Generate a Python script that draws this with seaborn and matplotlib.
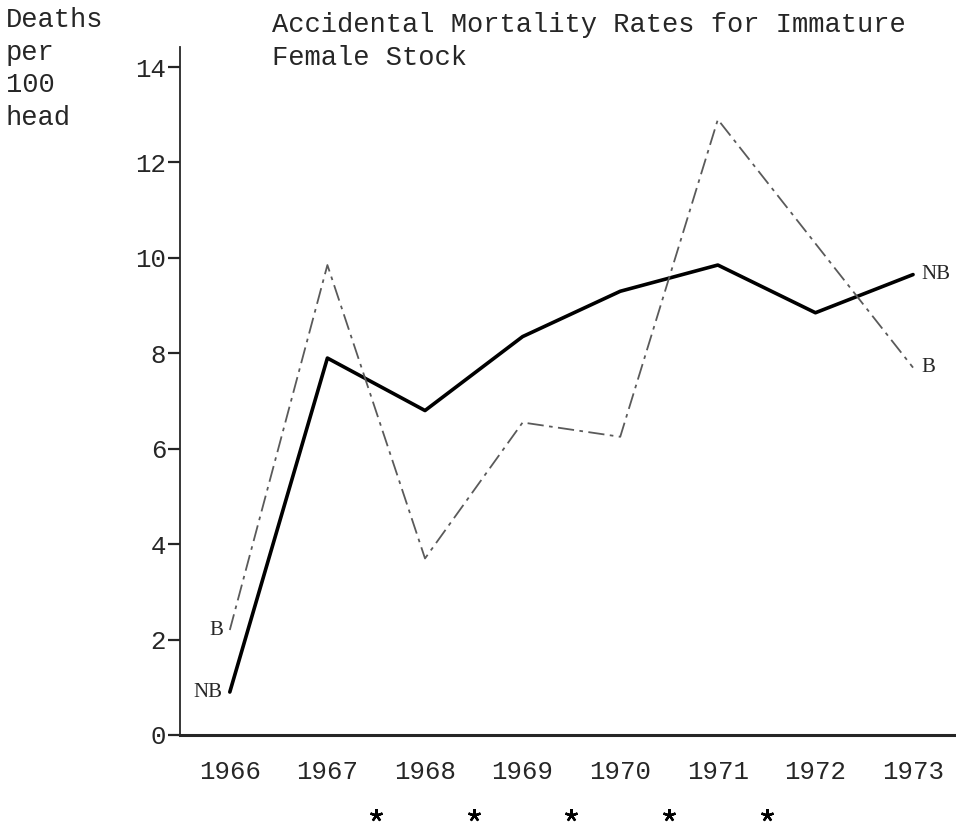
import pandas as pd
import matplotlib
matplotlib.use('Agg')
import matplotlib.pyplot as plt
import seaborn as sns

# data
years = [1966, 1967, 1968, 1969, 1970, 1971, 1972, 1973]
nb_rates = [0.9, 7.9, 6.8, 8.35, 9.3, 9.85, 8.85, 9.65]
b_rates = [2.2, 9.85, 3.7, 6.55, 6.25, 12.9, 10.3, 7.7]
y_ticks = [0, 2, 4, 6, 8, 10, 12, 14]
star_years = [1967.5, 1968.5, 1969.5, 1970.5, 1971.5]

sns.set_style('ticks')
plt.rcParams['font.family'] = ['Liberation Mono', 'DejaVu Sans Mono']

df = pd.DataFrame({'year': years * 2,
                   'rate': nb_rates + b_rates,
                   'group': ['NB'] * len(years) + ['B'] * len(years)})

fig = plt.figure(figsize=(9.56, 8.26), dpi=100)
ax = fig.add_axes([0.1883, 0.1102, 0.8117, 0.8329])

sns.lineplot(data=df[df.group == 'NB'], x='year', y='rate', ax=ax,
             color='black', linewidth=2.6, legend=False)
sns.lineplot(data=df[df.group == 'B'], x='year', y='rate', ax=ax,
             color='#5a5a5a', linewidth=1.3, legend=False)
ax.lines[-1].set_dashes([9, 3, 2, 3])

ax.set_xlim(1965.49, 1973.44)
ax.set_ylim(0, 14.42)
ax.set_xticks(years)
ax.set_xticklabels([str(y) for y in years], fontsize=18.5)
ax.set_yticks(y_ticks)
ax.set_yticklabels([str(v) for v in y_ticks], fontsize=18.5)
ax.tick_params(axis='x', length=0, pad=18)
ax.tick_params(axis='y', direction='out', length=9, width=1.6, pad=1)
ax.set_xlabel('')
ax.set_ylabel('')
sns.despine(ax=ax)
ax.spines['left'].set_linewidth(1.3)
ax.spines['bottom'].set_linewidth(2.2)

# series labels at the line ends
serif = ['Liberation Serif', 'DejaVu Serif']
for lab, vals in (('NB', nb_rates), ('B', b_rates)):
    ax.annotate(lab, xy=(years[0], vals[0]), xytext=(-5, 0),
                textcoords='offset points', ha='right', va='center',
                fontsize=15, family=serif)
    ax.annotate(lab, xy=(years[-1], vals[-1]), xytext=(6, 0),
                textcoords='offset points', ha='left', va='center',
                fontsize=15, family=serif)

# asterisks under the axis, between the years
ax.plot(star_years, [-0.117] * len(star_years),
        transform=ax.get_xaxis_transform(), linestyle='none',
        marker=(5, 2, 0), markersize=9, markeredgewidth=1.7,
        color='black', clip_on=False)

fig.text(0.006, 1 - 7 / 826, 'Deaths\nper\n100\nhead', ha='left', va='top',
         fontsize=19.5, linespacing=1.33)
fig.text(0.284, 1 - 12 / 826,
         'Accidental Mortality Rates for Immature\nFemale Stock',
         ha='left', va='top', fontsize=19.5, linespacing=1.35)

fig.savefig('out.png', dpi=100)
